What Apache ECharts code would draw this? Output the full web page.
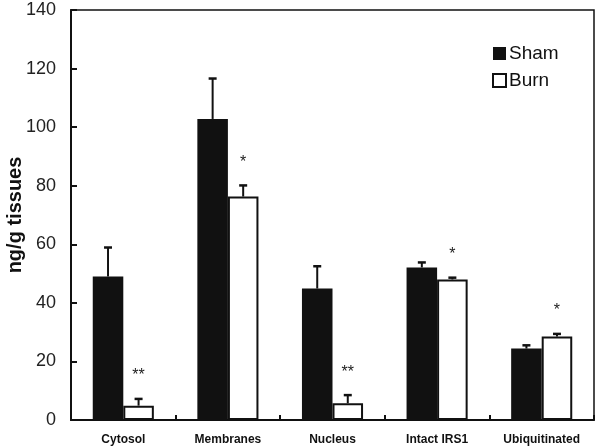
<!DOCTYPE html>
<html>
<head>
<meta charset="utf-8">
<script src="https://cdn.jsdelivr.net/npm/echarts@6/dist/echarts.min.js"></script>
<style>html,body{margin:0;padding:0;background:#fff}#c{width:600px;height:448px}</style>
</head>
<body>
<div id="c"></div>
<script>
var categories = ['Cytosol', 'Membranes', 'Nucleus', 'Intact IRS1', 'Ubiquitinated'];
var shamValues = [49.0, 102.8, 44.9, 52.1, 24.4];
var shamErrors = [9.9, 13.8, 7.6, 1.7, 1.1];
var burnValues = [4.9, 76.3, 5.7, 48.0, 28.5];
var burnErrors = [2.3, 3.8, 2.8, 0.6, 0.9];
var burnSignif = ['**', '*', '**', '*', '*'];
var yTicks = [0, 20, 40, 60, 80, 100, 120, 140];

var CAT_GAP = 0.416;
var FONT = '"Liberation Sans", Arial, sans-serif';

function errSeries(name, values, errors, side, marks) {
  return {
    type: 'custom',
    name: name + ' err',
    z: 5,
    data: values.map(function (v, i) { return [i, v, errors[i], marks ? marks[i] : '']; }),
    renderItem: function (params, api) {
      var i = api.value(0), v = api.value(1), e = api.value(2);
      var catW = api.size([1, 0])[0];
      var bw = catW * (1 - CAT_GAP) / 2;
      var base = api.coord([i, v]);
      var top = api.coord([i, v + e]);
      var x = base[0] + side * bw / 2;
      var cap = 4;
      var children = [
        { type: 'line', shape: { x1: x, y1: base[1], x2: x, y2: top[1] }, style: { stroke: '#111', lineWidth: 2 } },
        { type: 'line', shape: { x1: x - cap, y1: top[1], x2: x + cap, y2: top[1] }, style: { stroke: '#111', lineWidth: 2.5 } }
      ];
      var m = api.value(3);
      if (m) {
        children.push({ type: 'text', style: { text: m, x: x, y: top[1] - 23, align: 'center', verticalAlign: 'middle', font: '16px ' + FONT, fill: '#222' } });
      }
      return { type: 'group', children: children };
    }
  };
}

var chart = echarts.init(document.getElementById('c'));
chart.setOption({
  animation: false,
  backgroundColor: '#fff',
  grid: { left: 71, right: 6, top: 10, bottom: 28, containLabel: false, outerBoundsMode: 'none',
    show: true, borderColor: '#111', borderWidth: 1.5, backgroundColor: 'transparent' },
  legend: {
    left: 487, top: 39, orient: 'vertical', itemWidth: 13, itemHeight: 13, itemGap: 8,
    icon: 'rect',
    data: ['Sham', 'Burn'],
    textStyle: { fontSize: 19, color: '#111', fontFamily: FONT, padding: [0, 0, 0, -2] }
  },
  xAxis: {
    type: 'category', data: categories,
    axisLine: { lineStyle: { color: '#111', width: 2 } },
    axisTick: { show: true, inside: true, length: 5, lineStyle: { color: '#111', width: 2 } },
    axisLabel: { fontSize: 12, fontWeight: 'bold', color: '#111', fontFamily: FONT, margin: 14 }
  },
  yAxis: {
    type: 'value', min: 0, max: 140, interval: 20,
    name: 'ng/g tissues', nameLocation: 'middle', nameGap: 46, nameMoveOverlap: false,
    nameTextStyle: { fontSize: 20, fontWeight: 'bold', color: '#111', fontFamily: FONT },
    axisLine: { show: true, lineStyle: { color: '#111', width: 2 } },
    axisTick: { show: true, inside: true, length: 6, lineStyle: { color: '#111', width: 2 } },
    splitLine: { show: false },
    axisLabel: { fontSize: 18, color: '#222', fontFamily: FONT, margin: 15,
      formatter: function (v) { return yTicks.indexOf(v) >= 0 ? String(v) : ''; } }
  },
  series: [
    { type: 'bar', name: 'Sham', data: shamValues, barGap: '0%', barCategoryGap: (CAT_GAP * 100) + '%',
      itemStyle: { color: '#111111', borderColor: '#111', borderWidth: 0 } },
    { type: 'bar', name: 'Burn', data: burnValues, barGap: '0%', barCategoryGap: (CAT_GAP * 100) + '%',
      itemStyle: { color: '#ffffff', borderColor: '#111', borderWidth: 2 } },
    errSeries('Sham', shamValues, shamErrors, -1, null),
    errSeries('Burn', burnValues, burnErrors, 1, burnSignif)
  ]
});
</script>
</body>
</html>
